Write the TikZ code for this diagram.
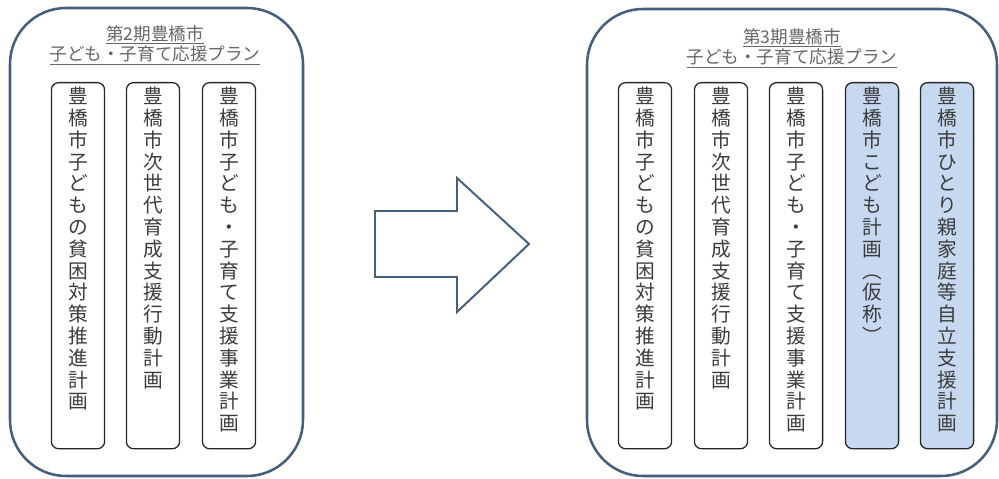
\documentclass[tikz,border=0pt]{standalone}
\usepackage{fontspec}
\usepackage{tikz}
\usetikzlibrary{positioning}
\newfontfamily\jp{Noto Sans CJK JP}
\definecolor{waku}{RGB}{68,94,125}
\definecolor{mizu}{RGB}{198,217,240}
\definecolor{moji}{RGB}{60,60,60}

\newcommand{\hinkon}{豊\\橋\\市\\子\\ど\\も\\の\\貧\\困\\対\\策\\推\\進\\計\\画}
\newcommand{\jisedai}{豊\\橋\\市\\次\\世\\代\\育\\成\\支\\援\\行\\動\\計\\画}
\newcommand{\kosodate}{豊\\橋\\市\\子\\ど\\も\\・\\子\\育\\て\\支\\援\\事\\業\\計\\画}

\begin{document}
\begin{tikzpicture}[
      x=0.025cm, y=-0.025cm,
      plan/.style={
        draw=waku,
        line width=1.8pt,
        rounded corners=1.4cm
      },
      keikaku/.style={
        draw=black!85,
        fill=white,
        line width=0.9pt,
        rounded corners=0.18cm,
        minimum width=1.33cm,
        minimum height=9.15cm,
        inner sep=0pt,
        anchor=north
      },
      shin/.style={keikaku, fill=mizu},
      tate/.style={
        font=\jp\fontsize{14}{15.5}\selectfont,
        text=moji,
        align=center,
        inner sep=0pt
      },
      midashi/.style={
        font=\jp\fontsize{12.5}{13}\selectfont,
        text=black!60,
        align=center,
        inner sep=0pt
      }
    ]
      \useasboundingbox (0,0) rectangle (999,479);

      % waku
      \draw[plan] (10,8) rectangle (303,476);
      \draw[plan] (587,9) rectangle (997,476);

      \node (m2) at (155,45) [midashi]{\underline{第2期豊橋市}\\\underline{子ども・子育て応援プラン}};
      \node (m3) at (792,48) [midashi]{\underline{第3期豊橋市}\\\underline{子ども・子育て応援プラン}};

      % dai 2 ki
      \node (k1) at (78,82) [keikaku]{};
      \node (k2) at (153,82) [keikaku]{};
      \node (k3) at (229,82) [keikaku]{};

      % dai 3 ki
      \node (k4) at (645,82) [keikaku]{};
      \node (k5) at (721,82) [keikaku]{};
      \node (k6) at (796,82) [keikaku]{};
      \node (k7) at (872,82) [shin]{};
      \node (k8) at (947,82) [shin]{};

      \node (t1) [tate, below=3.5pt of k1.north]{\hinkon};
      \node (t2) [tate, below=3.5pt of k2.north]{\jisedai};
      \node (t3) [tate, below=3.5pt of k3.north]{\kosodate};
      \node (t4) [tate, below=3.5pt of k4.north]{\hinkon};
      \node (t5) [tate, below=3.5pt of k5.north]{\jisedai};
      \node (t6) [tate, below=3.5pt of k6.north]{\kosodate};
      \node (t7) [tate, below=3.5pt of k7.north]{豊\\橋\\市\\こ\\ど\\も\\計\\画\\︵\\仮\\称\\︶};
      \node (t8) [tate, below=3.5pt of k8.north]{豊\\橋\\市\\ひ\\と\\り\\親\\家\\庭\\等\\自\\立\\支\\援\\計\\画};

      % yajirushi
      \draw[draw=waku, line width=1.4pt] (375,211) -- (457,211) -- (457,178) -- (529,244)
        -- (457,312) -- (457,277) -- (375,277) -- cycle;

    \end{tikzpicture}
\end{document}
